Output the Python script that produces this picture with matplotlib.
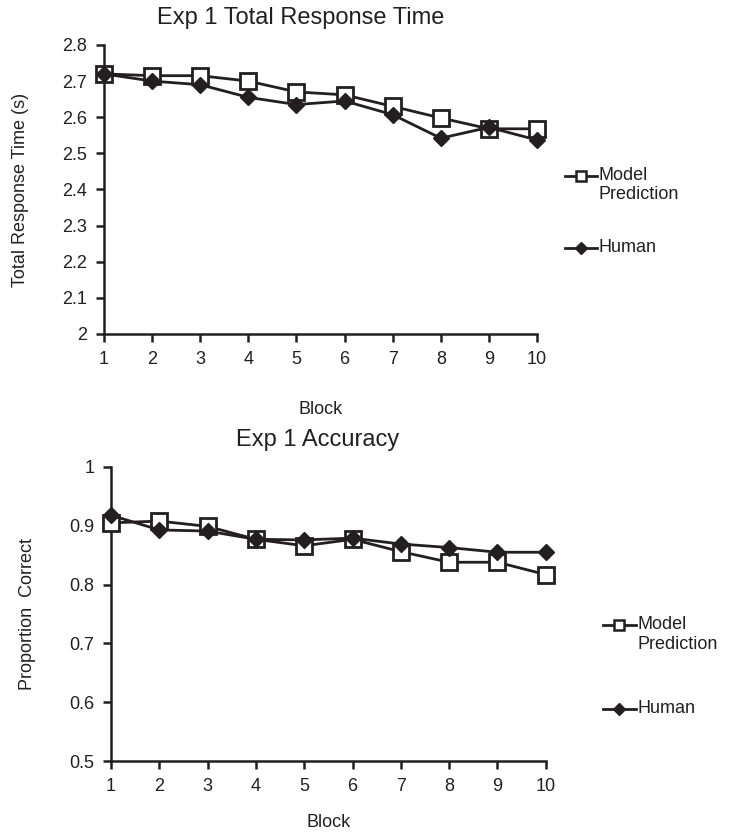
import matplotlib
matplotlib.use("Agg")
import matplotlib.pyplot as plt

plt.rcParams['font.family'] = ['Liberation Sans', 'DejaVu Sans']

blocks = [1, 2, 3, 4, 5, 6, 7, 8, 9, 10]

# Exp 1 total response time (s)
rt_model = [2.72, 2.715, 2.715, 2.70, 2.67, 2.662, 2.63, 2.598, 2.568, 2.568]
rt_human = [2.72, 2.70, 2.69, 2.655, 2.635, 2.645, 2.607, 2.542, 2.572, 2.537]

# Exp 1 accuracy (proportion correct)
acc_model = [0.905, 0.908, 0.899, 0.877, 0.866, 0.877, 0.856, 0.838, 0.838, 0.817]
acc_human = [0.918, 0.893, 0.891, 0.877, 0.876, 0.879, 0.869, 0.863, 0.855, 0.855]

rt_ticks = [2, 2.1, 2.2, 2.3, 2.4, 2.5, 2.6, 2.7, 2.8]
acc_ticks = [0.5, 0.6, 0.7, 0.8, 0.9, 1]

INK = '#231f20'

fig = plt.figure(figsize=(7.39, 8.36), dpi=100)
ax1 = fig.add_axes([0.1407, 0.6005, 0.586, 0.3457])
ax2 = fig.add_axes([0.150, 0.0897, 0.5886, 0.3517])


def legend(ax, x0, x1, y_model, y_human, dy):
    xm = (x0 + x1) / 2
    tr = ax.transAxes
    ax.plot([x0, x1], [y_model, y_model], color=INK, lw=2, transform=tr, clip_on=False)
    ax.plot([xm], [y_model], marker='s', ms=7.5, mfc='white', mec=INK, mew=1.8,
            transform=tr, clip_on=False)
    ax.plot([x0, x1], [y_human, y_human], color=INK, lw=2, transform=tr, clip_on=False)
    ax.plot([xm], [y_human], marker='D', ms=6, mfc=INK, mec=INK,
            transform=tr, clip_on=False)
    kw = dict(transform=tr, fontsize=13, color=INK, va='center', ha='left')
    ax.text(x1 + 0.003, y_model, 'Model', **kw)
    ax.text(x1 + 0.003, y_model - dy, 'Prediction', **kw)
    ax.text(x1 + 0.003, y_human, 'Human', **kw)


def draw(ax, model, human, ticks, ylabel, title, title_x, xpad):
    ax.plot(blocks, model, color=INK, lw=2, marker='s', ms=11,
            mfc='white', mec=INK, mew=2, zorder=3, clip_on=False)
    ax.plot(blocks, human, color=INK, lw=2, marker='D', ms=8.5,
            mfc=INK, mec=INK, zorder=4, clip_on=False)
    ax.set_xlim(1, 10)
    ax.set_ylim(ticks[0], ticks[-1])
    ax.set_xticks(blocks)
    ax.set_yticks(ticks)
    ax.set_yticklabels([('%g' % t) for t in ticks])
    for s in ['top', 'right']:
        ax.spines[s].set_visible(False)
    for s in ['left', 'bottom']:
        ax.spines[s].set_linewidth(1.8)
        ax.spines[s].set_color(INK)
        ax.spines[s].set_zorder(1)
    ax.tick_params(direction='out', length=6, width=1.8, color=INK,
                   labelsize=13, labelcolor=INK, pad=6)
    ax.set_xlabel('Block', fontsize=13, color=INK, labelpad=xpad)
    ax.set_ylabel(ylabel, fontsize=13, color=INK, labelpad=24)
    ax.set_title(title, fontsize=17, color=INK, pad=15, x=title_x)


draw(ax1, rt_model, rt_human, rt_ticks, 'Total Response Time (s)',
     'Exp 1 Total Response Time', 0.455, 24)
draw(ax2, acc_model, acc_human, acc_ticks, 'Proportion  Correct',
     'Exp 1 Accuracy', 0.476, 14)

legend(ax1, 1.065, 1.139, 0.547, 0.298, 0.066)
legend(ax2, 1.131, 1.207, 0.463, 0.177, 0.068)

fig.savefig('out.png', dpi=100)
